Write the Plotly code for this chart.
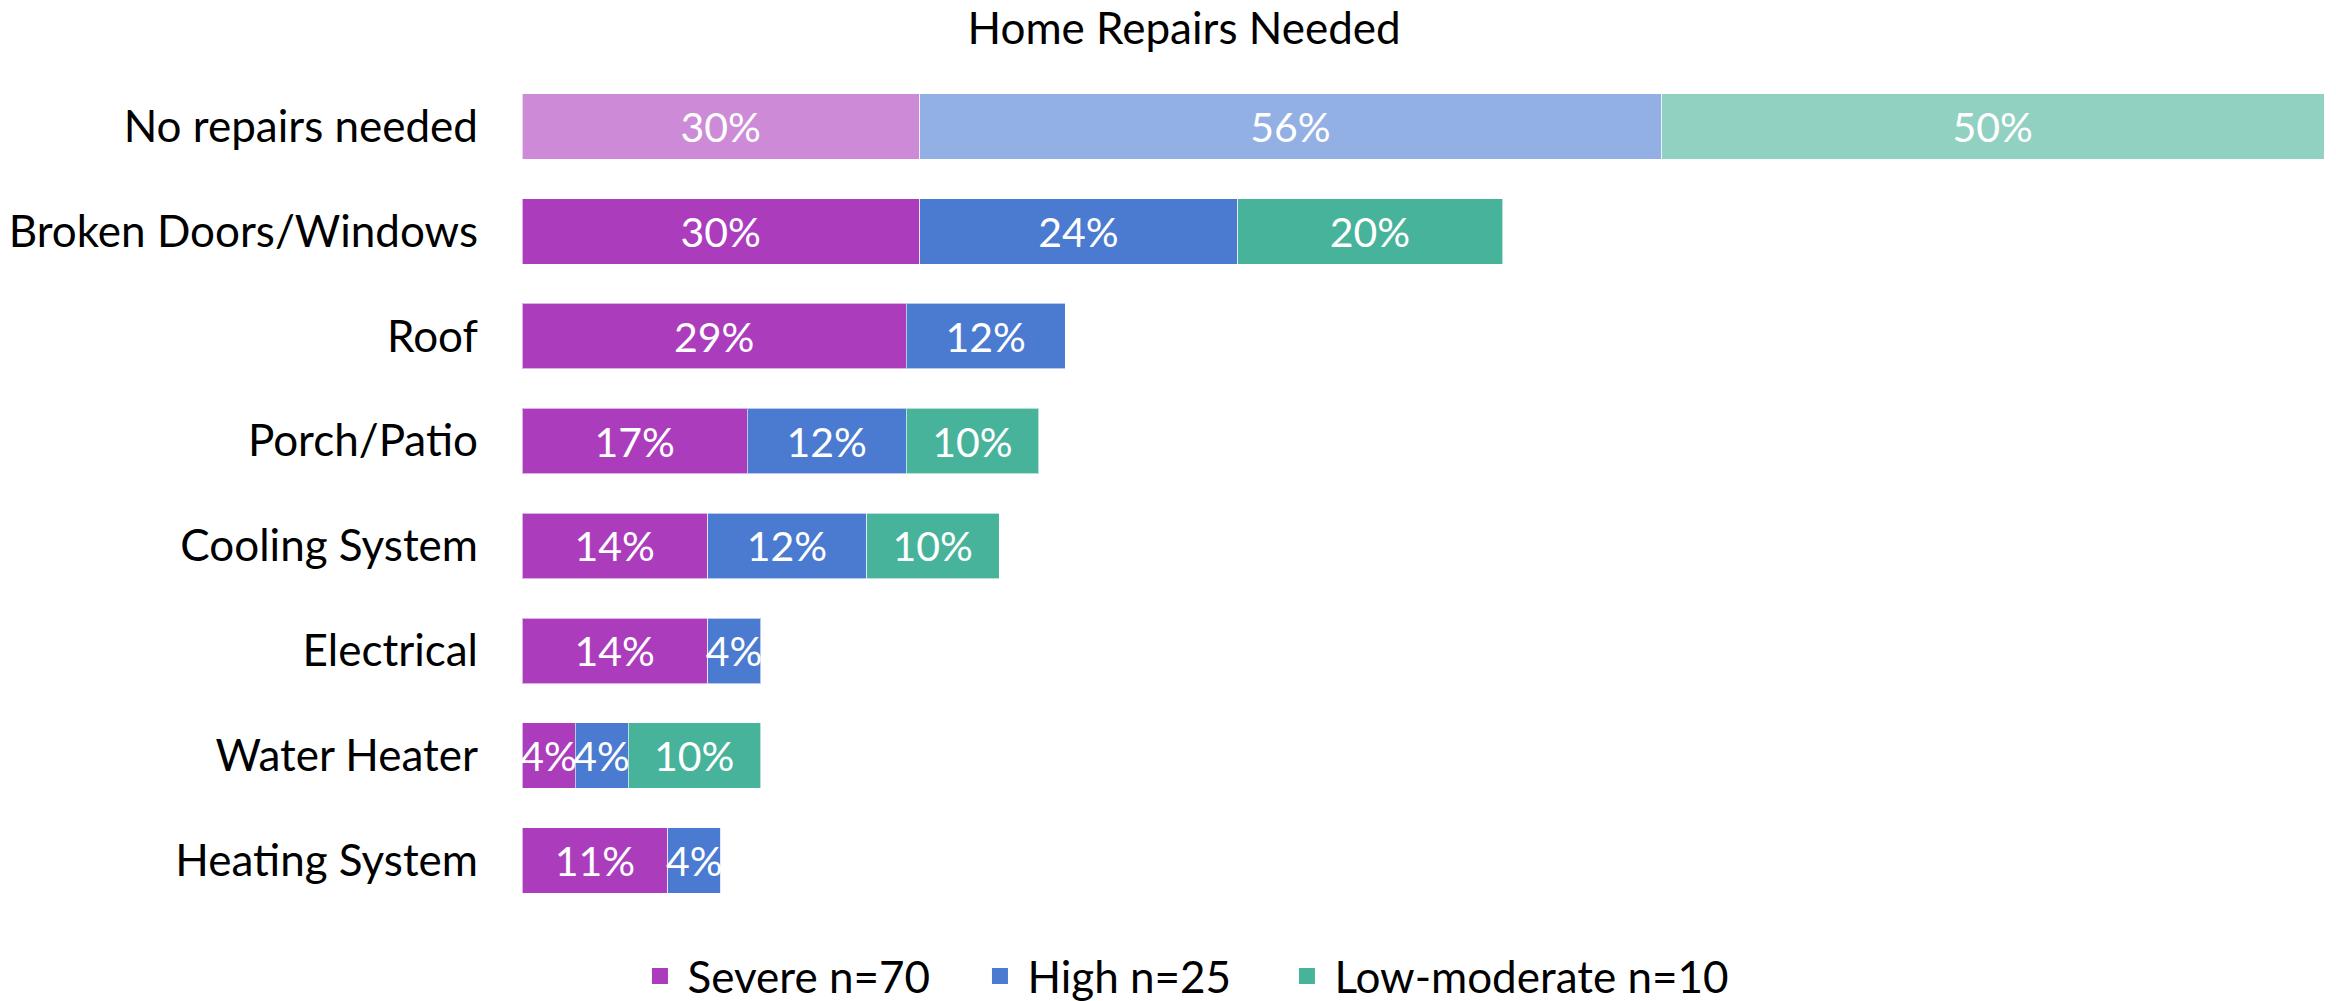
import plotly.graph_objects as go

categories = ["No repairs needed", "Broken Doors/Windows", "Roof", "Porch/Patio",
              "Cooling System", "Electrical", "Water Heater", "Heating System"]
severe = [30, 30, 29, 17, 14, 14, 4, 11]
high = [56, 24, 12, 12, 12, 4, 4, 4]
low_moderate = [50, 20, None, 10, 10, None, 10, 0]

series = [
    ("Severe n=70", severe, (171, 61, 189), 280),
    ("High n=25", high, (74, 123, 208), 247),
    ("Low-moderate n=10", low_moderate, (71, 179, 154), None),
]

FONT = "Lato, Carlito, Calibri, sans-serif"

# page body has an 8px margin, so the figure is drawn 8px smaller
W, H = 2328, 993

fig = go.Figure()
for name, vals, (r, g, b), _ in series:
    colors = [f"rgba({r},{g},{b},0.6)" if c == "No repairs needed" else f"rgb({r},{g},{b})"
              for c in categories]
    texts = ["" if v is None else f"{v}%" for v in vals]
    fig.add_trace(go.Bar(
        name=name, y=categories, x=vals, orientation="h",
        marker=dict(color=colors, line=dict(color="rgba(255,255,255,0.6)", width=1)),
        text=texts, textposition="inside", insidetextanchor="middle",
        textangle=0, constraintext="none", cliponaxis=False,
        textfont=dict(color="white", size=41, family=FONT),
        showlegend=False,
    ))

# legend entries (square swatches)
for name, vals, (r, g, b), lw in series:
    kw = {} if lw is None else dict(legendwidth=lw)
    fig.add_trace(go.Scatter(
        name=name, x=[None], y=[None], mode="markers",
        marker=dict(symbol="square", size=20, color=f"rgb({r},{g},{b})"),
        showlegend=True, hoverinfo="skip", **kw,
    ))

fig.update_layout(
    barmode="stack",
    bargap=0.375,
    width=W, height=H,
    margin=dict(l=514, r=12, t=66, b=88, autoexpand=False),
    paper_bgcolor="white", plot_bgcolor="white",
    title=dict(text="Home Repairs Needed", x=0.5052, xanchor="center", y=1 - 21 / H,
               yanchor="middle", font=dict(size=44, family=FONT, color="black")),
    uniformtext=dict(minsize=41, mode="show"),
    legend=dict(orientation="h", x=0.0613, xanchor="left", y=-63.5 / 839, yanchor="middle",
                font=dict(size=44, family=FONT, color="black"), traceorder="normal",
                itemsizing="trace", itemwidth=45),
    showlegend=True,
)
fig.update_xaxes(range=[0, 136], visible=False, showgrid=False, zeroline=False)
fig.update_yaxes(autorange="reversed", showgrid=False, zeroline=False, showline=False,
                 ticks="", ticklabelstandoff=43, automargin=False,
                 tickfont=dict(size=44, family=FONT, color="black"))

fig.write_html("out.html")
